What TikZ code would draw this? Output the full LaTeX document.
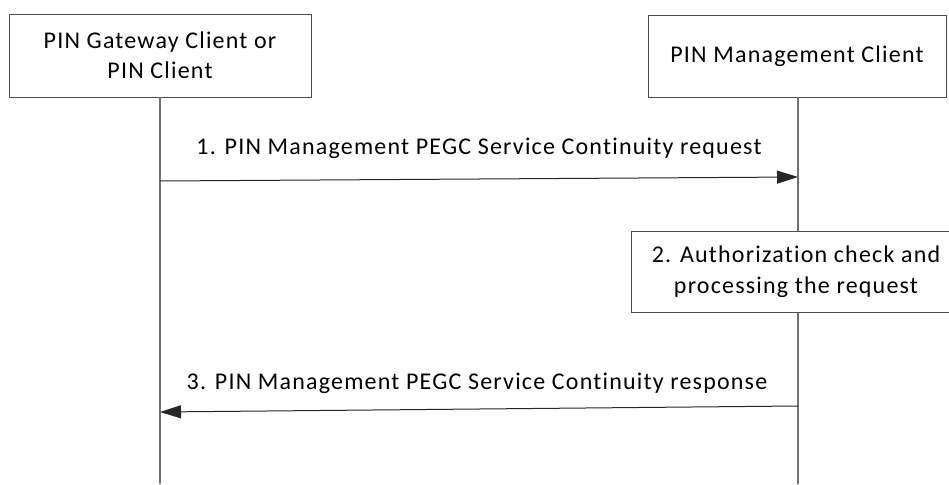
\documentclass[tikz,border=0pt]{standalone}
\usepackage{fontspec}
\setmainfont{Carlito}[LetterSpace=5, Ligatures=NoCommon]
\usetikzlibrary{arrows.meta,calc}

\begin{document}
\begin{tikzpicture}[x=1pt, y=-1pt,
  font=\fontsize{24}{30.5}\selectfont,
  actor/.style={draw=black!70, fill=white, align=center, inner sep=0pt, line width=0.9pt},
  life/.style={draw=black!55, line width=1.3pt},
  msg/.style={-{Triangle[length=21pt, width=13pt]}, line width=1pt, black!85},
  mlab/.style={inner sep=1pt}]
\useasboundingbox (0,0) rectangle (949,484);
\node[actor, minimum width=302pt, minimum height=83pt] (gwc) at (160,55.5) {PIN Gateway Client or\\PIN Client};
\node[actor, minimum width=298pt, minimum height=82pt] (mgc) at (797,56) {PIN Management Client};
\coordinate (gwcEnd) at (160,484);
\coordinate (mgcEnd) at (798,484);
\draw[life] (gwc.south) -- (gwcEnd);
\draw[life] (mgc.south -| mgcEnd) -- (mgcEnd);
\node[actor, minimum width=330pt, minimum height=81pt] (auth) at (796,271.5) {2. Authorization check and\\processing the request};
\coordinate (m1a) at (160,181);
\coordinate (m1b) at (798,177);
\coordinate (m3a) at (798,406);
\coordinate (m3b) at (160,412);
\draw[msg] (m1a) -- (m1b);
\draw[msg] (m3a) -- (m3b);
\node[mlab] (lab1) at (479,148) {1. PIN Management PEGC Service Continuity request};
\node[mlab] (lab3) at (477,383) {3. PIN Management PEGC Service Continuity response};
\end{tikzpicture}
\end{document}
